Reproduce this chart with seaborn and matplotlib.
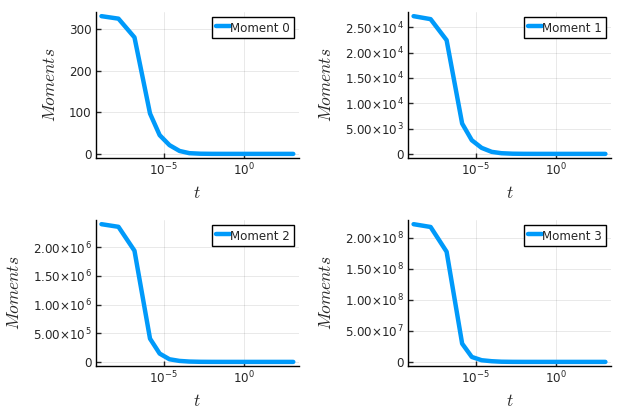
import seaborn as sns
import matplotlib
matplotlib.use("Agg")
import matplotlib.pyplot as plt
from matplotlib.ticker import FuncFormatter, NullLocator

# time points (log-spaced solver output)
t = [1.3e-9, 1.5e-8, 1.5e-7, 1.4e-6, 5.6e-6, 2.3e-5, 9.8e-5, 4.0e-4,
     2.0e-3, 1.0e-2, 6.3e-2, 0.5, 4.0, 32.0, 200.0, 1230.0]

moment0 = [331, 325, 280, 97, 45, 21, 7, 1.7, 0.4, 0.1, 0.03, 0.01, 0.0, 0.0, 0.0, 0.0]
moment1 = [27240, 26650, 22490, 6000, 2700, 1190, 400, 130, 35, 9, 2, 0.5, 0.1, 0.0, 0.0, 0.0]
moment2 = [2.406e6, 2.36e6, 1.942e6, 4.06e5, 1.45e5, 4.6e4, 1.7e4, 6e3, 1.5e3, 400, 90, 20, 4, 1, 0, 0]
moment3 = [2.225e8, 2.18e8, 1.78e8, 2.95e7, 8e6, 2.7e6, 1.1e6, 3e5, 7e4, 1.5e4, 3e3, 600, 100, 20, 0, 0]

moments = [moment0, moment1, moment2, moment3]
labels = ["Moment 0", "Moment 1", "Moment 2", "Moment 3"]
yticks = [
    [0, 100, 200, 300],
    [0, 5e3, 1e4, 1.5e4, 2e4, 2.5e4],
    [0, 5e5, 1e6, 1.5e6, 2e6],
    [0, 5e7, 1e8, 1.5e8, 2e8],
]

sns.set_style("ticks")
plt.rcParams["font.family"] = ["DejaVu Sans"]
plt.rcParams["mathtext.fontset"] = "cm"

FS = 8.6


def sci_fmt(v, pos, plain=False):
    if v == 0:
        return "0"
    if plain:
        return f"{v:.0f}"
    e = 0
    m = abs(v)
    while m >= 10:
        m /= 10
        e += 1
    sign = "-" if v < 0 else ""
    return f"{sign}{m:.2f}×10" + r"$^{\mathregular{" + str(e) + "}}$"


fig, axes = plt.subplots(2, 2, figsize=(6.23, 4.15), dpi=100)
fig.subplots_adjust(left=0.1536, right=0.981, top=0.971, bottom=0.118,
                    wspace=0.535, hspace=0.425)

for i, ax in enumerate(axes.flat):
    sns.lineplot(x=t, y=moments[i], ax=ax, color="#009AFA", linewidth=3.2,
                 label=labels[i])
    ax.set_xscale("log")
    ax.margins(x=0.03, y=0.03)
    ax.set_xticks([1e-5, 1e0])
    ax.set_xticklabels([r"10$^{\mathregular{-5}}$", r"10$^{\mathregular{0}}$"])
    ax.xaxis.set_minor_locator(NullLocator())
    ax.set_yticks(yticks[i])
    ax.yaxis.set_major_formatter(FuncFormatter(
        lambda v, p, plain=(i == 0): sci_fmt(v, p, plain)))
    ax.tick_params(direction="in", length=3.6, width=1, labelsize=FS, pad=3)
    ax.grid(True, color="black", alpha=0.1, linewidth=0.6)
    for s in ["top", "right"]:
        ax.spines[s].set_visible(False)
    for s in ["left", "bottom"]:
        ax.spines[s].set_linewidth(1.0)
        ax.spines[s].set_color("black")
    ax.set_xlabel(r"$t$", fontsize=12.5, labelpad=4)
    ax.set_ylabel(r"$Moments$", fontsize=12.5, labelpad=7)
    leg = ax.legend(loc="upper right", fontsize=FS, fancybox=False,
                    edgecolor="black", framealpha=1, handlelength=1.2,
                    handleheight=1.4, handletextpad=0.0, borderpad=0.3,
                    borderaxespad=0.45)
    leg.get_frame().set_linewidth(1.0)

fig.savefig("out.png", dpi=100)
